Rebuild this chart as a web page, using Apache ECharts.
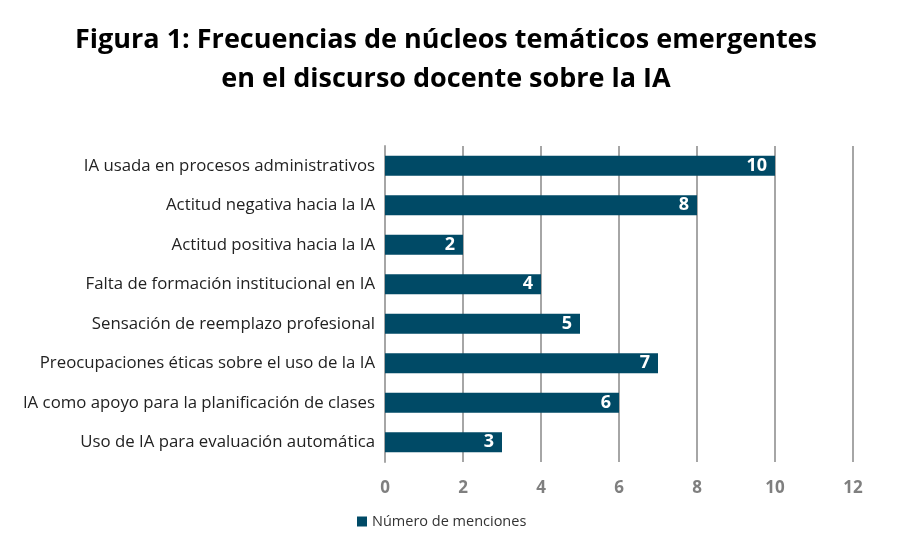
<!DOCTYPE html>
<html><head><meta charset="utf-8">
<script src="https://cdn.jsdelivr.net/npm/echarts@6/dist/echarts.min.js"></script>
<style>html,body{margin:0;padding:0;background:#fff}#c{width:918px;height:537px}</style>
</head><body><div id="c"></div>
<script>
const titleText = "Figura 1: Frecuencias de núcleos temáticos emergentes\nen el discurso docente sobre la IA";
const categories = [
  "IA usada en procesos administrativos",
  "Actitud negativa hacia la IA",
  "Actitud positiva hacia la IA",
  "Falta de formación institucional en IA",
  "Sensación de reemplazo profesional",
  "Preocupaciones éticas sobre el uso de la IA",
  "IA como apoyo para la planificación de clases",
  "Uso de IA para evaluación automática"
];
const values = [10, 8, 2, 4, 5, 7, 6, 3];
const seriesName = "Número de menciones";
const xTicks = [0, 2, 4, 6, 8, 10, 12];

const chart = echarts.init(document.getElementById('c'), null, {renderer: 'canvas'});
chart.setOption({
  animation: false,
  title: {
    text: titleText, left: 441, textAlign: 'center', top: 16,
    textStyle: {fontFamily: 'Open Sans', fontWeight: 'bold', fontSize: 27, color: '#000', lineHeight: 39}
  },
  legend: {
    data: [seriesName], bottom: 3, left: 352, icon: 'rect', itemWidth: 10, itemHeight: 10, itemGap: 4,
    textStyle: {fontFamily: 'Open Sans', fontSize: 14.5, color: '#333'}
  },
  grid: {left: 385, right: 65, top: 146, bottom: 75},
  xAxis: {
    type: 'value', min: xTicks[0], max: xTicks[xTicks.length-1], interval: 2,
    axisLine: {show: false}, axisTick: {show: false},
    splitLine: {lineStyle: {color: '#a6a6a6', width: 2}},
    axisLabel: {fontFamily: 'Open Sans', fontWeight: 'bold', fontSize: 17, color: '#7f7f7f', margin: 18}
  },
  yAxis: {
    type: 'category', data: categories, inverse: true,
    axisLine: {lineStyle: {color: '#a6a6a6', width: 2}}, axisTick: {show: false},
    axisLabel: {fontFamily: 'Open Sans', fontSize: 16.8, color: '#222', margin: 10}
  },
  series: [{
    name: seriesName, type: 'bar', data: values, barWidth: 20,
    itemStyle: {color: '#004a66'},
    label: {show: true, position: 'insideRight', distance: 8, color: '#fff', fontFamily: 'Open Sans', fontWeight: 'bold', fontSize: 18}
  }]
});
</script></body></html>
